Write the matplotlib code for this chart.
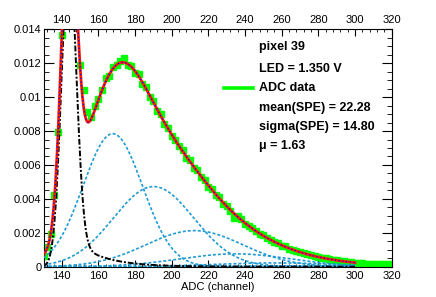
import math
import numpy as np
import matplotlib
matplotlib.use('Agg')
import matplotlib.pyplot as plt
from matplotlib.lines import Line2D
from matplotlib.ticker import MultipleLocator

plt.rcParams['font.family'] = ['Liberation Sans', 'DejaVu Sans']

# fit results printed on the plot
pixel = 39
led_voltage = 1.350
spe_mean = 22.28
spe_sigma = 14.80
mu = 1.63

# pedestal + background
ped_pos = 143.8
ped_sigma = 4.0
ped_height = 0.0175
tail_amp = 0.0018
tail_len = 16.0
spe_base = 145.5
noise_sigma = 6.7
n_pe = [1, 2, 3, 4, 5, 6, 7]

# ADC data (every 2nd channel)
adc = list(range(130, 321, 2))
counts = [
    0.00065, 0.00115, 0.00190, 0.00425, 0.00795, 0.01365, 0.01950, 0.02150,
    0.02030, 0.01570, 0.01190, 0.01040, 0.00910, 0.00885, 0.00950, 0.00990,
    0.01040, 0.01110, 0.01125, 0.01180, 0.01190, 0.01215, 0.01230, 0.01190,
    0.01185, 0.01140, 0.01135, 0.01080, 0.01060, 0.01000, 0.00980, 0.00920,
    0.00900, 0.00840, 0.00820, 0.00770, 0.00750, 0.00710, 0.00690, 0.00640,
    0.00630, 0.00580, 0.00570, 0.00530, 0.00510, 0.00470, 0.00460, 0.00420,
    0.00410, 0.00370, 0.00360, 0.00330, 0.00290, 0.00300, 0.00280, 0.00250,
    0.00240, 0.00230, 0.00210, 0.00190, 0.00185, 0.00170, 0.00160, 0.00145,
    0.00140, 0.00125, 0.00120, 0.00105, 0.00100, 0.00095, 0.00085, 0.00080,
    0.00072, 0.00068, 0.00061, 0.00058, 0.00052, 0.00049, 0.00044, 0.00040,
    0.00038, 0.00034, 0.00031, 0.00028, 0.00026, 0.00024, 0.00020, 0.00020,
    0.00018, 0.00017, 0.00018, 0.00015, 0.00016, 0.00014, 0.00015, 0.00014,
]

erf = np.vectorize(math.erf)


def pedestal(x):
    g = ped_height * np.exp(-(x - ped_pos) ** 2 / (2 * ped_sigma ** 2))
    t = tail_amp * np.exp(-(x - ped_pos) / tail_len) * 0.5 * (1 + erf((x - ped_pos) / (np.sqrt(2) * ped_sigma)))
    return g + t


def npe(x, n):
    w = np.exp(-mu) * mu ** n / math.factorial(n)
    s = np.sqrt(noise_sigma ** 2 + n * spe_sigma ** 2)
    m = spe_base + n * spe_mean
    return w / (np.sqrt(2 * np.pi) * s) * np.exp(-(x - m) ** 2 / (2 * s ** 2))


def total(x):
    return pedestal(x) + sum(npe(x, n) for n in n_pe)


fig = plt.figure(figsize=(4.36, 2.97), dpi=100)
ax = fig.add_axes([43.5 / 436, 1 - 266.7 / 297, 348.2 / 436, 237.4 / 297])

ax.plot(adc, counts, 's', color='#00ff00', ms=4, mec='#00ff00', zorder=2)

# fit function and its components
x = np.linspace(130, 300, 800)
for n in n_pe:
    ax.plot(x, npe(x, n), color='#1f9bd4', lw=1.2, ls=(0, (1.8, 1.2)), zorder=3)
ax.plot(x, pedestal(x), color='black', lw=1.4, ls=(0, (3, 1, 1, 1)), zorder=3)
ax.plot(x, total(x), color='#ff1a00', lw=2.0, zorder=4)
ax.plot(x, total(x), color='#0000ff', lw=0.9, ls=(0, (1, 2)), zorder=5)

ax.set_xlim(130, 320)
ax.set_ylim(0, 0.014)
ax.xaxis.set_major_locator(MultipleLocator(20))
ax.xaxis.set_minor_locator(MultipleLocator(4))
ax.yaxis.set_major_locator(MultipleLocator(0.002))
ax.yaxis.set_minor_locator(MultipleLocator(0.0005))
ax.yaxis.set_major_formatter(plt.FuncFormatter(lambda v, p: '0' if v == 0 else ('%g' % round(v, 4))))
ax.tick_params(axis='x', which='both', direction='in', top=True, labeltop=True, labelsize=8, pad=3)
ax.tick_params(axis='y', which='both', direction='in', right=True, labelsize=8, pad=1.5)
ax.tick_params(axis='x', which='major', length=5)
ax.tick_params(axis='x', which='minor', length=2.5)
ax.tick_params(axis='y', which='major', length=7.2)
ax.tick_params(axis='y', which='minor', length=3.6)
ax.set_xlabel('ADC (channel)', fontsize=8, labelpad=0.5)

# text box on the right
lines = ['pixel %d' % pixel, 'LED = %.3f V' % led_voltage, 'ADC data',
         'mean(SPE) = %.2f' % spe_mean, 'sigma(SPE) = %.2f' % spe_sigma, '\u03bc = %.2f' % mu]
ys = [47, 68.5, 88, 107.5, 127, 146]
for txt, yp in zip(lines, ys):
    fig.text(259 / 436, 1 - yp / 297, txt, fontsize=9, fontweight='bold', va='center', ha='left')
fig.add_artist(Line2D([224 / 436, 252.7 / 436], [1 - 88 / 297] * 2, color='#00ff00', lw=2.6))

fig.savefig('out.png', dpi=100)
